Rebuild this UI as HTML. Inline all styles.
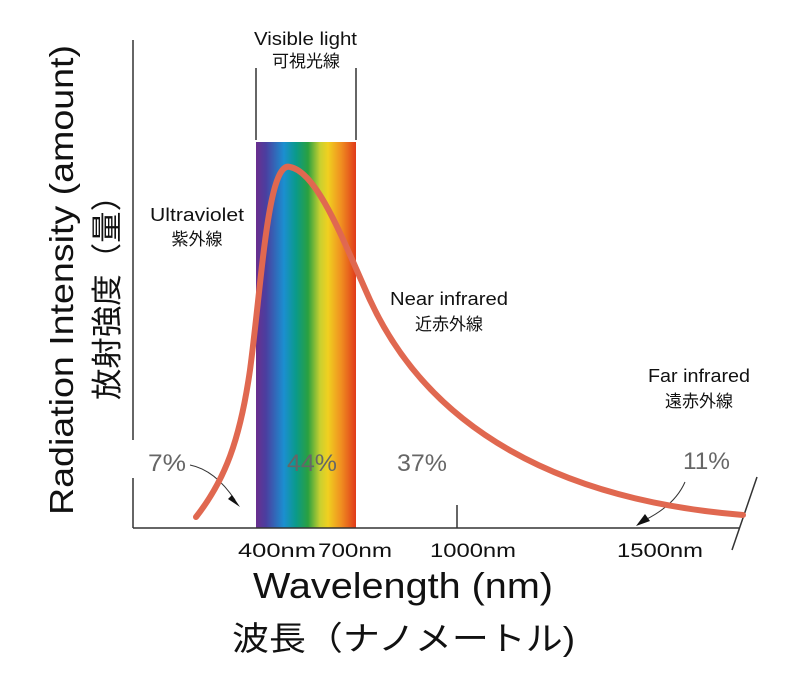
<!DOCTYPE html><html><head><style>body{margin:0;background:#fff}svg{display:block}</style></head><body>
<svg width="785" height="699" xmlns="http://www.w3.org/2000/svg" font-family="Liberation Sans, Noto Sans CJK JP, sans-serif">
<defs><linearGradient id="g" x1="0" x2="1">
<stop offset="0" stop-color="#6a2e8e"/><stop offset="0.1" stop-color="#4a3fa0"/><stop offset="0.28" stop-color="#1b8fd0"/><stop offset="0.4" stop-color="#0a9a8a"/><stop offset="0.52" stop-color="#2aa040"/><stop offset="0.64" stop-color="#c8d030"/><stop offset="0.72" stop-color="#f0d020"/><stop offset="0.85" stop-color="#f09020"/><stop offset="1" stop-color="#e03a1a"/></linearGradient></defs>
<rect x="256" y="142" width="100" height="386" fill="url(#g)"/>
<g stroke="#333" stroke-width="1.5" fill="none">
<line x1="133" y1="40" x2="133" y2="440"/><line x1="133" y1="478" x2="133" y2="528"/>
<line x1="133" y1="528" x2="740" y2="528"/>
<line x1="256" y1="68" x2="256" y2="140"/><line x1="356" y1="68" x2="356" y2="140"/>
<line x1="457" y1="505" x2="457" y2="528"/>
<line x1="757" y1="477" x2="732" y2="550"/>
<path d="M190 465 Q215 470 235 500" stroke-width="1"/>
<path d="M685 482 Q675 505 645 520" stroke-width="1"/>
</g>
<polygon points="240,507 228,499 232,495" fill="#111"/>
<polygon points="636,526 645,514 650,521" fill="#111"/>
<path d="M196 517 C225 480 240 440 250 370 C262 280 268 160 290 167 C318 172 345 245 370 300 C430 430 560 500 743 515" stroke="#e06850" stroke-width="6" fill="none" stroke-linecap="round"/>
<g font-size="18" fill="#111">
<text x="254" y="45" textLength="103" lengthAdjust="spacingAndGlyphs">Visible light</text><text x="306" y="67" text-anchor="middle" font-size="17">可視光線</text>
<text x="150" y="221" textLength="94" lengthAdjust="spacingAndGlyphs">Ultraviolet</text><text x="197" y="245" text-anchor="middle" font-size="17">紫外線</text>
<text x="390" y="305" textLength="118" lengthAdjust="spacingAndGlyphs">Near infrared</text><text x="449" y="330" text-anchor="middle" font-size="17">近赤外線</text>
<text x="648" y="382" textLength="102" lengthAdjust="spacingAndGlyphs">Far infrared</text><text x="699" y="407" text-anchor="middle" font-size="17">遠赤外線</text>
<text x="238" y="557" font-size="19" textLength="78" lengthAdjust="spacingAndGlyphs">400nm</text><text x="318" y="557" font-size="19" textLength="74" lengthAdjust="spacingAndGlyphs">700nm</text><text x="430" y="557" font-size="19" textLength="86" lengthAdjust="spacingAndGlyphs">1000nm</text><text x="617" y="557" font-size="19" textLength="86" lengthAdjust="spacingAndGlyphs">1500nm</text>
</g>
<g font-size="24" fill="#666">
<text x="148" y="471" textLength="38" lengthAdjust="spacingAndGlyphs">7%</text><text x="287" y="471" textLength="50" lengthAdjust="spacingAndGlyphs">44%</text><text x="397" y="471" textLength="50" lengthAdjust="spacingAndGlyphs">37%</text><text x="683" y="469" textLength="47" lengthAdjust="spacingAndGlyphs">11%</text>
</g>
<text x="253" y="598" font-size="36" fill="#111" textLength="300" lengthAdjust="spacingAndGlyphs">Wavelength (nm)</text>
<text x="232" y="650" font-size="33" fill="#111" textLength="343" lengthAdjust="spacingAndGlyphs">波長（ナノメートル)</text>
<g transform="translate(73,515) rotate(-90)"><text x="0" y="0" font-size="33" fill="#111" textLength="470" lengthAdjust="spacingAndGlyphs">Radiation Intensity (amount)</text></g>
<g transform="translate(118,400) rotate(-90)"><text x="0" y="0" font-size="31" fill="#111" textLength="220" lengthAdjust="spacingAndGlyphs">放射強度（量）</text></g>
</svg></body></html>
